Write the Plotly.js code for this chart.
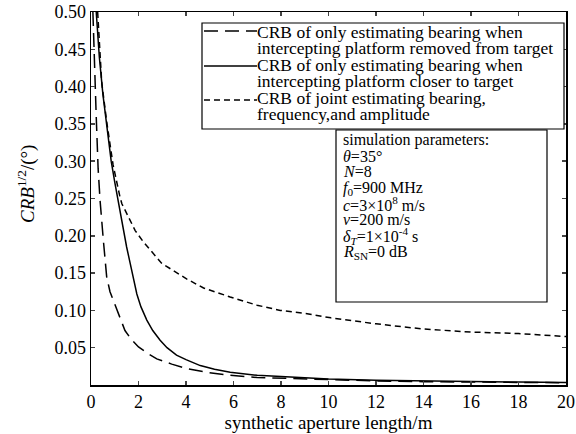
<!DOCTYPE html>
<html>
<head>
<meta charset="utf-8">
<script src="https://cdn.plot.ly/plotly-3.0.1.min.js"></script>
<style>html,body{margin:0;padding:0;background:#fff;}#chart{width:576px;height:434px;}</style>
</head>
<body>
<div id="chart"></div>
<script>
// Series: CRB of only estimating bearing, platform removed from target (long dash)
const xRemoved = [0.08, 0.15, 0.22, 0.30, 0.38, 0.52, 0.66, 0.80, 0.94, 1.2, 1.43, 1.7, 2.0, 2.4, 2.77, 3.4, 4.04, 4.88, 5.86, 7, 8, 10, 12, 14, 16, 18, 20];
const yRemoved = [0.50, 0.42, 0.36, 0.29, 0.248, 0.194, 0.145, 0.125, 0.113, 0.090, 0.073, 0.061, 0.051, 0.042, 0.035, 0.028, 0.022, 0.017, 0.013, 0.010, 0.009, 0.007, 0.0055, 0.0045, 0.004, 0.0035, 0.003];
// Series: platform closer to target (solid)
const xCloser = [0.22, 0.35, 0.5, 0.7, 0.85, 1.0, 1.2, 1.36, 1.5, 1.65, 1.8, 1.93, 2.1, 2.35, 2.6, 2.91, 3.2, 3.6, 4.0, 4.6, 5.2, 5.86, 7, 8, 10, 12, 14, 16, 18, 20];
const yCloser = [0.50, 0.44, 0.39, 0.34, 0.30, 0.272, 0.235, 0.207, 0.185, 0.163, 0.14, 0.122, 0.105, 0.087, 0.073, 0.060, 0.050, 0.040, 0.034, 0.026, 0.021, 0.017, 0.013, 0.011, 0.008, 0.0065, 0.0055, 0.0045, 0.004, 0.0035];
// Series: joint estimating bearing, frequency and amplitude (short dash)
const xJoint = [0.28, 0.38, 0.45, 0.66, 0.93, 1.22, 1.3, 1.86, 2.2, 2.98, 4.04, 4.74, 5.86, 6.99, 7.97, 9.1, 10.1, 12, 14, 16, 18, 20];
const yJoint = [0.50, 0.45, 0.406, 0.353, 0.295, 0.252, 0.243, 0.207, 0.192, 0.163, 0.142, 0.130, 0.118, 0.107, 0.100, 0.0956, 0.090, 0.082, 0.075, 0.071, 0.069, 0.065];

const seriesNames = [
  "CRB of only estimating bearing when intercepting platform removed from target",
  "CRB of only estimating bearing when intercepting platform closer to target",
  "CRB of joint estimating bearing, frequency,and amplitude"
];
const legendLines = [
  ["CRB of only estimating bearing when", "intercepting platform removed from target"],
  ["CRB of only estimating bearing when", "intercepting platform closer to target"],
  ["CRB of joint estimating bearing,", "frequency,and amplitude"]
];
const xTicks = [0, 2, 4, 6, 8, 10, 12, 14, 16, 18, 20];
const yTicks = [0.05, 0.10, 0.15, 0.20, 0.25, 0.30, 0.35, 0.40, 0.45, 0.50];
const xTitle = "synthetic aperture length/m";
const yTitle = "<i>CRB</i><sup>1/2</sup>/(°)";
const paramLines = [
  "simulation parameters:",
  "<i>θ</i>=35°",
  "<i>N</i>=8",
  "<i>f</i><sub>0</sub>=900 MHz",
  "<i>c</i>=3×10<sup>8</sup> m/s",
  "<i>v</i>=200 m/s",
  "<i>δ<sub>T</sub></i>=1×10<sup>-4</sup> s",
  "<i>R</i><sub>SN</sub>=0 dB"
];

const FONT = "Liberation Serif, Times New Roman, serif";
const dashes = ["14px,7px", "solid", "6px,4px"];
const traces = [
  {x: xRemoved, y: yRemoved, name: seriesNames[0], mode: "lines", line: {color: "#000", width: 1.5, dash: dashes[0]}},
  {x: xCloser, y: yCloser, name: seriesNames[1], mode: "lines", line: {color: "#000", width: 1.5, dash: dashes[1]}},
  {x: xJoint, y: yJoint, name: seriesNames[2], mode: "lines", line: {color: "#000", width: 1.5, dash: dashes[2]}}
];

// pixel -> paper helpers (plot area 91..566 x, 12..385 y)
const PL = 91, PR = 566, PT = 12, PB = 385;
const px = v => (v - PL) / (PR - PL);
const py = v => (PB - v) / (PB - PT);

const annotations = [];
const shapes = [];

// y-axis title (rotated)
annotations.push({xref: "paper", yref: "paper", x: px(26), y: py(184), xanchor: "center", yanchor: "middle",
  text: yTitle, textangle: -90, showarrow: false, font: {family: FONT, size: 19, color: "#000"}});

// legend box
shapes.push({type: "rect", xref: "paper", yref: "paper", x0: px(202), x1: px(564), y0: py(129), y1: py(23),
  line: {color: "#000", width: 1.2}, fillcolor: "#fff", layer: "above"});
const legendTextY = [[32, 48], [65, 81], [98, 114]];
const legendSampleY = [31, 66, 100];
legendLines.forEach((lines, i) => {
  shapes.push({type: "line", xref: "paper", yref: "paper", x0: px(204), x1: px(257),
    y0: py(legendSampleY[i]), y1: py(legendSampleY[i]),
    line: {color: "#000", width: 1.5, dash: dashes[i]}, layer: "above"});
  lines.forEach((t, j) => {
    annotations.push({xref: "paper", yref: "paper", x: px(256), y: py(legendTextY[i][j]),
      xanchor: "left", yanchor: "middle", text: t, showarrow: false,
      font: {family: FONT, size: 17.5, color: "#000"}, align: "left", borderpad: 0});
  });
});

// parameter box
shapes.push({type: "rect", xref: "paper", yref: "paper", x0: px(336), x1: px(547), y0: py(302), y1: py(130),
  line: {color: "#000", width: 1.2}, fillcolor: "#fff", layer: "above"});
const paramY = [140, 156, 172, 188, 204, 220, 236, 252];
paramLines.forEach((t, i) => {
  annotations.push({xref: "paper", yref: "paper", x: px(342), y: py(paramY[i]),
    xanchor: "left", yanchor: "middle", text: t, showarrow: false,
    font: {family: FONT, size: 16, color: "#000"}, align: "left", borderpad: 0});
});

const layout = {
  width: 576, height: 434,
  margin: {l: PL, r: 576 - PR, t: PT, b: 434 - PB},
  paper_bgcolor: "#fff", plot_bgcolor: "#fff",
  font: {family: FONT, size: 16, color: "#000"},
  showlegend: false,
  xaxis: {
    range: [0, 20], tickvals: xTicks, ticks: "inside", ticklen: 4, tickwidth: 1.5,
    showline: true, linecolor: "#000", linewidth: 1.5, mirror: "ticks", showgrid: false, zeroline: false,
    tickfont: {family: FONT, size: 18},
    title: {text: xTitle, font: {family: FONT, size: 19}, standoff: 2}
  },
  yaxis: {
    range: [0, 0.5], tickvals: yTicks, tickformat: ".2f", ticks: "inside", ticklen: 4, tickwidth: 1.5,
    showline: true, linecolor: "#000", linewidth: 1.5, mirror: "ticks", showgrid: false, zeroline: false,
    tickfont: {family: FONT, size: 18}
  },
  shapes: shapes,
  annotations: annotations
};

Plotly.newPlot("chart", traces, layout, {displayModeBar: false, staticPlot: true});
</script>
</body>
</html>
